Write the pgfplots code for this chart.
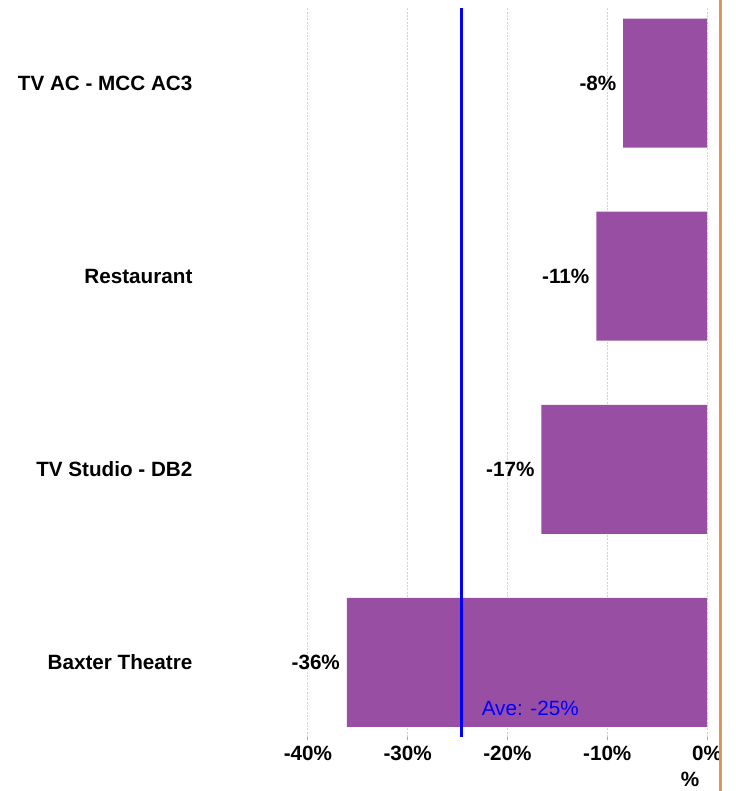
\documentclass[border=0pt]{standalone}
\usepackage{fontspec}
\setmainfont{Liberation Sans}
\usepackage{pgfplots}
\pgfplotsset{compat=1.18}
\definecolor{barpurple}{RGB}{152,79,163}
\definecolor{edgeorange}{RGB}{217,151,91}

\begin{document}
\begin{tikzpicture}[x=0.75pt,y=0.75pt]
\useasboundingbox (0,0) rectangle (735,791);
\begin{axis}[
    at={(193.5pt,40.5pt)}, anchor=south west,
    scale only axis,
    width=346.5pt, height=546.75pt,
    xbar, bar width=96.75pt,
    xmin=-45, xmax=1.3,
    ymin=-0.386, ymax=3.389,
    axis x line*=bottom, axis y line*=left,
    axis line style={draw=none},
    xtick={-40,-30,-20,-10,0},
    xticklabels={-40\%,-30\%,-20\%,-10\%,0\%},
    ytick={0,1,2,3},
    yticklabels={Baxter Theatre,TV Studio - DB2,Restaurant,TV AC - MCC AC3},
    xtick align=outside,
    major tick length=2.5pt,
    xtick style={edgeorange, line width=0.6pt},
    ytick style={draw=none},
    xmajorgrids,
    grid style={gray!35, line width=0.8pt, dash pattern=on 1.5pt off 1pt},
    ticklabel style={font=\fontsize{15.5}{18}\selectfont\bfseries},
    yticklabel style={inner sep=0pt, xshift=-46.5pt},
    xticklabel style={inner sep=0pt, yshift=-4pt},
    point meta=explicit symbolic,
    nodes near coords,
    nodes near coords style={anchor=east, inner sep=0pt, xshift=-5pt,
        font=\fontsize{15.5}{18}\selectfont\bfseries},
    clip=false,
]
\addplot[fill=barpurple, draw=none] coordinates {
    (-36.1,0) [-36\%]
    (-16.6,1) [-17\%]
    (-11.1,2) [-11\%]
    (-8.4,3) [-8\%]
};
\draw[blue, line width=1.9pt] (axis cs:-24.6,-0.386) -- (axis cs:-24.6,3.389);
\node[anchor=west, inner sep=0pt, text=blue, font=\fontsize{15.5}{18}\selectfont]
    at (axis cs:-22.6,-0.236) {Ave: -25\%};
\draw[edgeorange, line width=1.6pt] (axis cs:1.35,-0.67) -- (axis cs:1.35,3.44);
\node[font=\fontsize{15.5}{18}\selectfont\bfseries, inner sep=0pt]
    at (axis cs:-1.7,-0.605) {\%};
\end{axis}
\end{tikzpicture}
\end{document}
